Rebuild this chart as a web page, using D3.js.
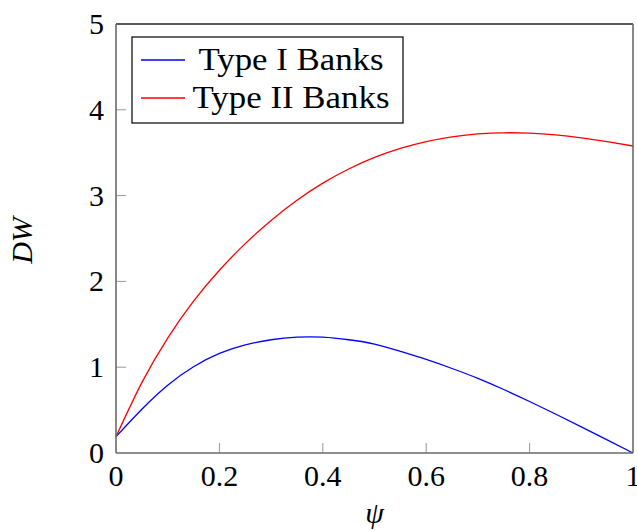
<!DOCTYPE html>
<html>
<head>
<meta charset="utf-8">
<script src="https://cdn.jsdelivr.net/npm/d3@7"></script>
<style>
  html, body { margin: 0; padding: 0; background: #fff; }
  svg { display: block; }
  text { font-family: "Liberation Serif", "Times New Roman", serif; fill: #000; }
</style>
</head>
<body>
<svg id="chart" width="637" height="531"></svg>
<script>
// psi grid
const psi = [0, 0.05, 0.1, 0.15, 0.2, 0.25, 0.3, 0.35, 0.4, 0.45, 0.5,
             0.55, 0.6, 0.65, 0.7, 0.75, 0.8, 0.85, 0.9, 0.95, 1.0];
// DW for Type I banks
const typeI = [0.19, 0.51, 0.79, 1.005, 1.16, 1.26, 1.32, 1.35, 1.35, 1.32, 1.27,
               1.185, 1.09, 0.985, 0.87, 0.74, 0.60, 0.455, 0.305, 0.153, 0.0];
// DW for Type II banks
const typeII = [0.19, 0.82, 1.34, 1.77, 2.13, 2.44, 2.71, 2.945, 3.145, 3.31, 3.445,
                3.55, 3.63, 3.685, 3.72, 3.732, 3.728, 3.708, 3.673, 3.628, 3.578];
const xTicks = [0, 0.2, 0.4, 0.6, 0.8, 1];
const xTickLabels = ["0", "0.2", "0.4", "0.6", "0.8", "1"];
const yTicks = [0, 1, 2, 3, 4, 5];
const seriesNames = ["Type I Banks", "Type II Banks"];
const seriesColors = ["#0000ff", "#ff0000"];

const svg = d3.select("#chart");
const plotL = 116, plotR = 633, plotT = 24, plotB = 453;

const x = d3.scaleLinear().domain([0, 1]).range([plotL, plotR]);
const y = d3.scaleLinear().domain([0, 5]).range([plotB, plotT]);

// Curves
const line = d3.line()
  .x(d => x(d[0]))
  .y(d => y(d[1]))
  .curve(d3.curveNatural);

[typeI, typeII].forEach((vals, i) => {
  svg.append("path")
    .datum(psi.map((p, k) => [p, vals[k]]))
    .attr("fill", "none")
    .attr("stroke", seriesColors[i])
    .attr("stroke-width", 1.3)
    .attr("d", line);
});

// Inward ticks
svg.append("g").selectAll("line").data(xTicks.slice(1, -1)).join("line")
  .attr("x1", d => x(d)).attr("x2", d => x(d))
  .attr("y1", plotB).attr("y2", plotB - 10)
  .attr("stroke", "#999").attr("stroke-width", 1);
svg.append("g").selectAll("line").data(yTicks.slice(1, -1)).join("line")
  .attr("x1", plotL).attr("x2", plotL + 10)
  .attr("y1", d => y(d)).attr("y2", d => y(d))
  .attr("stroke", "#999").attr("stroke-width", 1);

// Frame
svg.append("line").attr("x1", plotL).attr("x2", plotR).attr("y1", plotT).attr("y2", plotT)
  .attr("stroke", "#222").attr("stroke-width", 1.4);
svg.append("line").attr("x1", plotR).attr("x2", plotR).attr("y1", plotT).attr("y2", plotB)
  .attr("stroke", "#6a6a6a").attr("stroke-width", 1.6);
svg.append("line").attr("x1", plotL).attr("x2", plotL).attr("y1", plotT).attr("y2", plotB)
  .attr("stroke", "#6a6a6a").attr("stroke-width", 1.6);
svg.append("line").attr("x1", plotL).attr("x2", plotR).attr("y1", plotB).attr("y2", plotB)
  .attr("stroke", "#6a6a6a").attr("stroke-width", 1.6);

// Tick labels
svg.append("g").selectAll("text").data(xTicks).join("text")
  .attr("x", d => x(d)).attr("y", 486)
  .attr("text-anchor", "middle").attr("font-size", 30)
  .text((d, i) => xTickLabels[i]);
svg.append("g").selectAll("text").data(yTicks).join("text")
  .attr("x", 104).attr("y", d => y(d) + 10)
  .attr("text-anchor", "end").attr("font-size", 30)
  .text(d => d);

// Axis titles
svg.append("text")
  .attr("x", (plotL + plotR) / 2).attr("y", 523)
  .attr("text-anchor", "middle").attr("font-size", 30).attr("font-style", "italic")
  .text("ψ");
svg.append("text")
  .attr("transform", `translate(32,${(plotT + plotB) / 2 + 2}) rotate(-90)`)
  .attr("text-anchor", "middle").attr("font-size", 30).attr("font-style", "italic")
  .text("DW");

// Legend
const lg = svg.append("g");
lg.append("rect").attr("x", 132).attr("y", 37).attr("width", 271).attr("height", 86)
  .attr("fill", "#fff").attr("stroke", "#000").attr("stroke-width", 1.2);
const legendLens = [185, 197];
seriesNames.forEach((name, i) => {
  const cy = 60 + i * 38;
  lg.append("line").attr("x1", 141).attr("x2", 185).attr("y1", cy).attr("y2", cy)
    .attr("stroke", seriesColors[i]).attr("stroke-width", 1.3);
  lg.append("text").attr("x", 291).attr("y", cy + 10)
    .attr("text-anchor", "middle").attr("font-size", 31)
    .attr("textLength", legendLens[i]).attr("lengthAdjust", "spacingAndGlyphs")
    .text(name);
});
</script>
</body>
</html>
